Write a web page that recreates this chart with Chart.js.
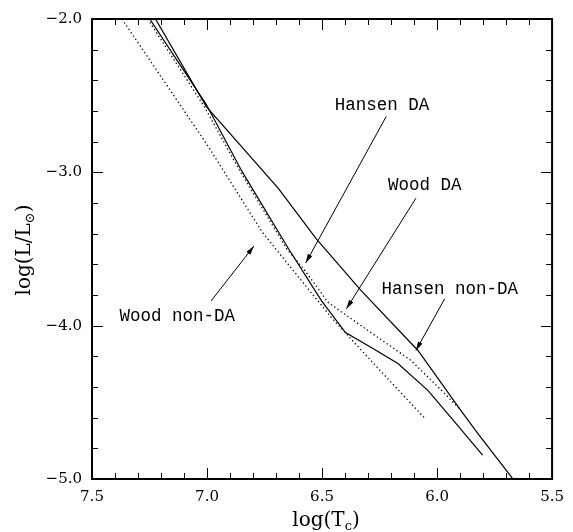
<!DOCTYPE html>
<html>
<head>
<meta charset="utf-8">
<script src="https://cdn.jsdelivr.net/npm/chart.js@4.4.0/dist/chart.umd.min.js"></script>
<style>
html,body{margin:0;padding:0;background:#fff;}
#wrap{width:573px;height:532px;}
</style>
</head>
<body>
<div id="wrap"><canvas id="chart" width="573" height="532"></canvas></div>
<script>
// cooling curves, log(Tc) vs log(L/Lsun)
var hansenDA_T = [7.249, 7.003, 6.848, 6.645, 6.502, 6.398, 6.286, 6.170, 6.040, 5.941, 5.802];
var hansenDA_L = [-2.000, -2.558, -2.994, -3.500, -3.838, -4.045, -4.143, -4.247, -4.422, -4.597, -4.844];

var hansenNonDA_T = [7.224, 7.003, 6.690, 6.524, 6.329, 6.083, 5.897, 5.824, 5.673];
var hansenNonDA_L = [-2.000, -2.571, -3.104, -3.435, -3.773, -4.162, -4.552, -4.701, -4.994];

var woodDA_T = [7.258, 7.012, 6.856, 6.653, 6.580, 6.472, 6.256, 6.113, 5.967, 5.897];
var woodDA_L = [-2.000, -2.571, -2.994, -3.500, -3.630, -3.851, -4.078, -4.227, -4.442, -4.552];

var woodNonDA_T = [7.370, 7.003, 6.760, 6.690, 6.459, 6.256, 6.053];
var woodNonDA_L = [-2.000, -2.812, -3.390, -3.520, -3.948, -4.279, -4.604];

// labels: text, label position, arrow start, arrow tip (data coords)
var labels = [
  {text: 'Hansen DA',     at: [6.239, -2.565], from: [6.221, -2.636], to: [6.571, -3.591]},
  {text: 'Wood DA',       at: [6.053, -3.084], from: [6.092, -3.169], to: [6.394, -3.890]},
  {text: 'Hansen non-DA', at: [5.945, -3.766], from: [5.967, -3.825], to: [6.092, -4.162]},
  {text: 'Wood non-DA',   at: [7.129, -3.942], from: [6.982, -3.838], to: [6.796, -3.481]}
];

var pts = function(xs, ys){
  var out = [];
  for (var i = 0; i < xs.length; i++) out.push({x: xs[i], y: ys[i]});
  return out;
};

var lineSet = function(xs, ys, dotted){
  return {
    data: pts(xs, ys),
    showLine: true,
    borderColor: '#000',
    borderWidth: dotted ? 1.3 : 1.2,
    borderDash: dotted ? [1.3, 2.7] : [],
    pointRadius: 0,
    fill: false,
    tension: 0
  };
};

var fmt = function(v){
  return v.toFixed(1).replace('-', '\u2212');
};

var frameTicks = {
  id: 'frameTicks',
  afterDraw: function(chart){
    var ctx = chart.ctx, a = chart.chartArea;
    var xs = chart.scales.x, ys = chart.scales.y;
    ctx.save();
    ctx.strokeStyle = '#000';
    ctx.lineWidth = 1;
    for (var i = 0; i <= 20; i++){
      var px = Math.round(xs.getPixelForValue(5.5 + i * 0.1)) + 0.5;
      var len = (i % 5 == 0) ? 11 : 6;
      ctx.beginPath();
      ctx.moveTo(px, a.bottom); ctx.lineTo(px, a.bottom - len);
      ctx.moveTo(px, a.top); ctx.lineTo(px, a.top + len);
      ctx.stroke();
    }
    for (var j = 0; j <= 15; j++){
      var py = Math.round(ys.getPixelForValue(-5 + j * 0.2)) + 0.5;
      var len2 = (j % 5 == 0) ? 11 : 6;
      ctx.beginPath();
      ctx.moveTo(a.left, py); ctx.lineTo(a.left + len2, py);
      ctx.moveTo(a.right, py); ctx.lineTo(a.right - len2, py);
      ctx.stroke();
    }
    ctx.lineWidth = 2;
    ctx.strokeRect(a.left, a.top, a.right - a.left, a.bottom - a.top);

    // annotations
    ctx.fillStyle = '#000';
    ctx.font = '17.5px "Liberation Mono"';
    ctx.textAlign = 'center';
    ctx.textBaseline = 'middle';
    ctx.lineWidth = 1;
    labels.forEach(function(l){
      ctx.fillText(l.text, xs.getPixelForValue(l.at[0]), ys.getPixelForValue(l.at[1]));
      var x0 = xs.getPixelForValue(l.from[0]), y0 = ys.getPixelForValue(l.from[1]);
      var x1 = xs.getPixelForValue(l.to[0]), y1 = ys.getPixelForValue(l.to[1]);
      var ang = Math.atan2(y1 - y0, x1 - x0);
      ctx.beginPath();
      ctx.moveTo(x0, y0); ctx.lineTo(x1, y1);
      ctx.stroke();
      ctx.beginPath();
      ctx.moveTo(x1, y1);
      ctx.lineTo(x1 - 9 * Math.cos(ang) + 2.5 * Math.sin(ang), y1 - 9 * Math.sin(ang) - 2.5 * Math.cos(ang));
      ctx.lineTo(x1 - 9 * Math.cos(ang) - 2.5 * Math.sin(ang), y1 - 9 * Math.sin(ang) + 2.5 * Math.cos(ang));
      ctx.closePath();
      ctx.fill();
    });

    // axis titles
    ctx.textAlign = 'left';
    ctx.textBaseline = 'alphabetic';
    var big = '20px "DejaVu Serif"', small = '13px "DejaVu Serif"';
    var drawParts = function(parts, cx, cy){
      var w = 0;
      parts.forEach(function(p){ ctx.font = p[1]; w += ctx.measureText(p[0]).width; });
      var x = cx - w / 2;
      parts.forEach(function(p){
        ctx.font = p[1];
        ctx.fillText(p[0], x, cy + p[2]);
        x += ctx.measureText(p[0]).width;
      });
    };
    drawParts([['log(T', big, 0], ['c', small, 4], [')', big, 0]], (a.left + a.right) / 2 + 4, 526);
    ctx.translate(30, 250);
    ctx.rotate(-Math.PI / 2);
    drawParts([['log(L/L', big, 0], ['\u2299', small, 4], [')', big, 0]], 0, 0);
    ctx.restore();
  }
};

new Chart(document.getElementById('chart').getContext('2d'), {
  type: 'scatter',
  data: {
    datasets: [
      lineSet(hansenDA_T, hansenDA_L, false),
      lineSet(hansenNonDA_T, hansenNonDA_L, false),
      lineSet(woodDA_T, woodDA_L, true),
      lineSet(woodNonDA_T, woodNonDA_L, true)
    ]
  },
  options: {
    responsive: false,
    animation: false,
    layout: {padding: {top: 17, right: 18, left: 0, bottom: 0}},
    plugins: {legend: {display: false}, tooltip: {enabled: false}},
    scales: {
      x: {
        type: 'linear', reverse: true, min: 5.5, max: 7.5,
        grid: {display: false, drawTicks: false},
        border: {display: false},
        ticks: {stepSize: 0.5, color: '#000', padding: 9, maxRotation: 0, autoSkip: false,
                font: {family: 'DejaVu Serif', size: 15}, callback: fmt},
        afterFit: function(s){ s.height = 53; }
      },
      y: {
        type: 'linear', min: -5, max: -2,
        grid: {display: false, drawTicks: false},
        border: {display: false},
        ticks: {stepSize: 1, color: '#000', padding: 10,
                font: {family: 'DejaVu Serif', size: 15}, callback: fmt},
        afterFit: function(s){ s.width = 92; }
      }
    }
  },
  plugins: [frameTicks]
});
</script>
</body>
</html>
